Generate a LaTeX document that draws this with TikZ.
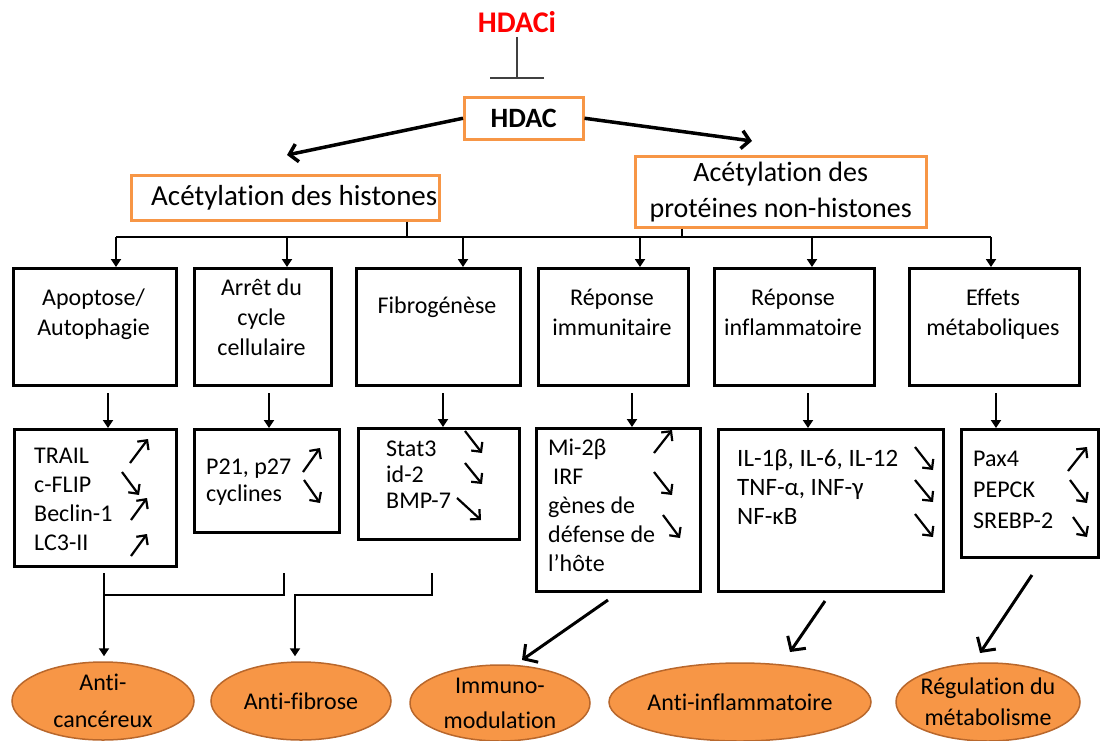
\documentclass[tikz,border=0pt]{standalone}
\usepackage{fontspec}
\setmainfont{Carlito}[Ligatures={NoCommon}]
\usetikzlibrary{arrows.meta,shapes.geometric,calc}
\definecolor{ora}{HTML}{F79646}
\definecolor{orad}{HTML}{B8672C}
\definecolor{inhc}{HTML}{404040}
\definecolor{hred}{HTML}{FF0000}
\begin{document}
\begin{tikzpicture}[x=1pt,y=-1pt,
  f24/.style={font=\fontsize{24}{30}\selectfont},
  obox/.style={draw=ora,line width=2.5pt,inner sep=0pt,anchor=north west},
  bbox/.style={draw=black,line width=3pt,inner sep=0pt,anchor=north west},
  mtxt/.style={f24,align=center,inner sep=0pt,anchor=north},
  ltxt/.style={align=left,inner sep=0pt,anchor=north west},
  ell/.style={ellipse,draw=orad,fill=ora,line width=1.5pt,inner sep=0pt},
  etxt/.style={align=center,inner sep=0pt},
  bigarr/.style={line width=3.5pt,-{Straight Barb[length=8pt,width=18pt]}},
  busline/.style={line width=1.8pt},
  busarr/.style={line width=1.8pt,-{Triangle[length=8pt,width=10pt]}},
  darr/.style={line width=2pt,-{Triangle[length=8pt,width=10pt]}},
  smarr/.style={line width=2.2pt,-{Straight Barb[length=7pt,width=14pt]}},
  botline/.style={line width=2.5pt},
  botarr/.style={line width=2.5pt,-{Triangle[length=8pt,width=10pt]}},
  diagarr/.style={line width=3pt,-{Straight Barb[length=10pt,width=22pt]}},
  inh/.style={draw=inhc,line width=2pt,-{Bar[width=54pt]}}
]
\useasboundingbox (0,0) rectangle (1100,740);

% top
\node[text=hred,font=\fontsize{30}{36}\selectfont\bfseries,inner sep=0pt] (hdaci) at (517,22) {HDACi};
\coordinate (inhend) at (517,79);
\draw[inh] (hdaci.south) ++(0,4) -- (inhend);
\node[obox,minimum width=119pt,minimum height=42pt,font=\fontsize{28}{34}\selectfont\bfseries] (hdac) at (463,96) {HDAC};

\node[obox,minimum width=308pt,minimum height=45pt,font=\fontsize{29}{34}\selectfont] (h1) at (130,174) {\hspace{18pt}Acétylation des histones};
\node[obox,minimum width=291pt,minimum height=71pt,font=\fontsize{28}{36}\selectfont,align=center] (h2) at (634,155) {Acétylation des\\protéines non-histones};

\coordinate (tL) at (287,155);
\coordinate (tR) at (752,141);
\draw[bigarr] (hdac.west) -- (tL);
\draw[bigarr] (hdac.east) -- (tR);

% bus
\coordinate (b1) at (116,237);
\coordinate (b2) at (287,237);
\coordinate (b3) at (463,237);
\coordinate (b4) at (640,237);
\coordinate (b5) at (812,237);
\coordinate (b6) at (991,237);
\coordinate (t1) at (407,237);
\coordinate (t2) at (682,237);
\draw[busline] (b1) -- (b6);
\draw[busline] (h1.south -| t1) -- (t1);
\draw[busline] (h2.south -| t2) -- (t2);

% middle boxes
\node[bbox,minimum width=163pt,minimum height=117pt] (m1) at (12,267) {};
\node[bbox,minimum width=137pt,minimum height=117pt] (m2) at (193,267) {};
\node[bbox,minimum width=164pt,minimum height=117pt] (m3) at (355,267) {};
\node[bbox,minimum width=150pt,minimum height=117pt] (m4) at (537,267) {};
\node[bbox,minimum width=160pt,minimum height=117pt] (m5) at (713,267) {};
\node[bbox,minimum width=170pt,minimum height=117pt] (m6) at (908,267) {};

\node[mtxt] (m1t) at (93.5,289) {Apoptose/\\Autophagie};
\node[mtxt] (m2t) at (261.5,279) {Arrêt du\\cycle\\cellulaire};
\node[mtxt] (m3t) at (437,297) {Fibrogénèse};
\node[mtxt] (m4t) at (612,289) {Réponse\\immunitaire};
\node[mtxt] (m5t) at (793,289) {Réponse\\inflammatoire};
\node[mtxt] (m6t) at (993,289) {Effets\\métaboliques};

\draw[busarr] (b1) -- (b1 |- m1.north);
\draw[busarr] (b2) -- (b2 |- m2.north);
\draw[busarr] (b3) -- (b3 |- m3.north);
\draw[busarr] (b4) -- (b4 |- m4.north);
\draw[busarr] (b5) -- (b5 |- m5.north);
\draw[busarr] (b6) -- (b6 |- m6.north);

% lower boxes
\node[bbox,minimum width=162pt,minimum height=137pt] (l1) at (13,428) {};
\node[bbox,minimum width=145pt,minimum height=103pt] (l2) at (193,428) {};
\node[bbox,minimum width=161pt,minimum height=111pt] (l3) at (357,427) {};
\node[bbox,minimum width=164pt,minimum height=163pt] (l4) at (535,427) {};
\node[bbox,minimum width=225pt,minimum height=162pt] (l5) at (717,428) {};
\node[bbox,minimum width=137pt,minimum height=128pt] (l6) at (960,428) {};

\coordinate (a1) at (108,393);
\coordinate (a2) at (269,393);
\coordinate (a3) at (443,393);
\coordinate (a4) at (632,393);
\coordinate (a5) at (808,393);
\coordinate (a6) at (996,393);
\draw[darr] (a1) -- (a1 |- l1.north);
\draw[darr] (a2) -- (a2 |- l2.north);
\draw[darr] (a3) -- (a3 |- l3.north);
\draw[darr] (a4) -- (a4 |- l4.north);
\draw[darr] (a5) -- (a5 |- l5.north);
\draw[darr] (a6) -- (a6 |- l6.north);

\node[ltxt,font=\fontsize{24}{29}\selectfont] (l1t) at (34,448) {TRAIL\\c-FLIP\\Beclin-1\\LC3-II};
\node[ltxt,font=\fontsize{24}{27}\selectfont] (l2t) at (206,459) {P21, p27\\cyclines};
\node[ltxt,font=\fontsize{24}{26}\selectfont] (l3t) at (386,441) {Stat3\\id-2\\BMP-7};
\node[ltxt,font=\fontsize{24}{29}\selectfont] (l4t) at (548,439) {Mi-2β\\\hspace{5pt}IRF\\gènes de\\défense de\\l’hôte};
\node[ltxt,font=\fontsize{25}{29}\selectfont] (l5t) at (737,449) {IL-1β, IL-6, IL-12\\TNF-α, INF-γ\\NF-κB};
\node[ltxt,font=\fontsize{24}{31}\selectfont] (l6t) at (973,451) {Pax4\\PEPCK\\SREBP-2};

% small up/down arrows
\draw[smarr] (130,463) -- (148,439);
\draw[smarr] (122,472) -- (139,495);
\draw[smarr] (131,520) -- (147,498);
\draw[smarr] (131,556) -- (147,534);
\draw[smarr] (303,472) -- (320,448);
\draw[smarr] (304,480) -- (320,503);
\draw[smarr] (465,431) -- (482,453);
\draw[smarr] (465,463) -- (482,484);
\draw[smarr] (457,498) -- (481,520);
\draw[smarr] (654,453) -- (672,430);
\draw[smarr] (654,472) -- (672,495);
\draw[smarr] (663,515) -- (680,538);
\draw[smarr] (915,447) -- (933,470);
\draw[smarr] (915,480) -- (933,502);
\draw[smarr] (915,514) -- (933,537);
\draw[smarr] (1068,471) -- (1087,447);
\draw[smarr] (1070,480) -- (1087,503);
\draw[smarr] (1073,517) -- (1087,537);

% ellipses
\node[ell,minimum width=182pt,minimum height=78pt] (e1) at (103,701) {};
\node[ell,minimum width=180pt,minimum height=78pt] (e2) at (301,701) {};
\node[ell,minimum width=180pt,minimum height=76pt] (e3) at (500,703) {};
\node[ell,minimum width=262pt,minimum height=78pt] (e4) at (740,702) {};
\node[ell,minimum width=184pt,minimum height=78pt] (e5) at (988,702) {};
\node[etxt,font=\fontsize{24}{37}\selectfont] (e1t) at (e1) {Anti-\\cancéreux};
\node[etxt,font=\fontsize{24}{30}\selectfont] (e2t) at (e2) {Anti-fibrose};
\node[etxt,font=\fontsize{24}{35}\selectfont] (e3t) at (e3) {Immuno-\\modulation};
\node[etxt,font=\fontsize{24}{30}\selectfont] (e4t) at (e4) {Anti-inflammatoire};
\node[etxt,font=\fontsize{24}{31}\selectfont] (e5t) at (e5) {Régulation du\\métabolisme};

% bottom connectors
\coordinate (c1) at (104,573);
\coordinate (c2) at (284,573);
\coordinate (c3) at (432,573);
\coordinate (j1) at (104,595);
\coordinate (j2) at (284,595);
\coordinate (j3) at (432,595);
\coordinate (j4) at (295,595);
\draw[botarr,shorten >=5pt] (c1) -- (c1 |- e1.north);
\draw[botline] (c2) -- (j2) -- (j1);
\draw[botarr,shorten >=5pt] (c3) -- (j3) -- (j4) -- (j4 |- e2.north);

\coordinate (d4) at (608,600);
\coordinate (g4) at (522,660);
\coordinate (d5) at (825,601);
\coordinate (g5) at (790,652);
\coordinate (d6) at (1032,575);
\coordinate (g6) at (980,653);
\draw[diagarr] (d4) -- (g4);
\draw[diagarr] (d5) -- (g5);
\draw[diagarr] (d6) -- (g6);
\end{tikzpicture}
\end{document}
